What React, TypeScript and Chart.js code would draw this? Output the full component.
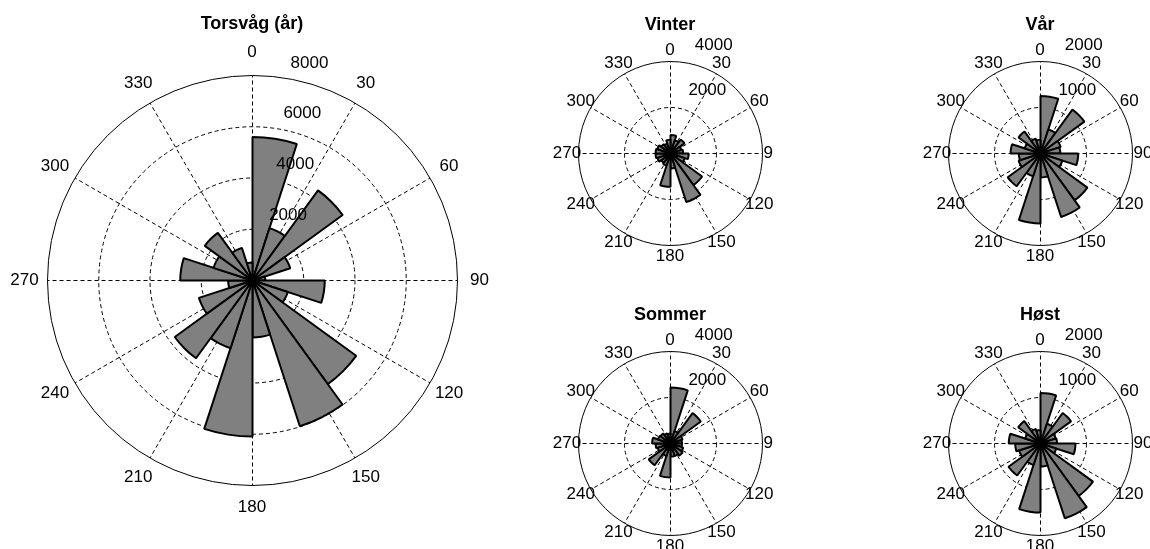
import React, { useEffect, useRef } from "react";
import { Chart, registerables } from "chart.js";

Chart.register(...registerables);

// Angle axis labels (degrees, clockwise from north)
const angleLabels = ["0", "30", "60", "90", "120", "150", "180", "210", "240", "270", "300", "330"];

// 20 direction bins of 18 degrees, clockwise from north (0-18, 18-36, ...)
const torsvagBins = [5600, 2150, 4350, 1550, 500, 2820, 1450, 5000, 5980, 2220, 6090, 2780, 3750, 2200, 950, 2820, 1600, 2300, 1340, 700];
const vinterBins = [800, 600, 750, 500, 550, 790, 650, 1700, 2220, 650, 1450, 550, 500, 600, 650, 650, 600, 500, 450, 600];
const varBins = [1250, 550, 1180, 460, 430, 820, 500, 1260, 1450, 520, 1520, 520, 880, 500, 470, 650, 360, 590, 340, 300];
const sommerBins = [2430, 570, 1630, 550, 500, 500, 580, 650, 570, 570, 1480, 570, 1170, 590, 650, 800, 570, 540, 460, 430];
const hostBins = [1100, 450, 820, 350, 360, 760, 360, 1410, 1710, 500, 1500, 490, 860, 490, 550, 690, 350, 600, 330, 290];

const FONT = '"Liberation Sans", Arial, Helvetica, sans-serif';

const roseDecor = {
  id: "roseDecor",
  beforeDraw(chart: any) {
    chart.ctx.save();
    chart.ctx.translate(0.5, 0.5);
  },
  afterDraw(chart: any, _args: any, opts: any) {
    const ctx = chart.ctx;
    ctx.restore();
    const s: any = chart.scales.r;
    const R = s.drawingArea;
    ctx.save();
    ctx.fillStyle = "#000";
    ctx.textAlign = "center";
    ctx.textBaseline = "middle";
    ctx.font = `bold ${opts.titleSize}px ${FONT}`;
    ctx.fillText(opts.title, s.xCenter, s.yCenter - R - opts.titleGap);
    ctx.font = `${opts.labelSize}px ${FONT}`;
    (chart.data.labels as string[]).forEach((lab, i) => {
      const p = s.getPointPosition(i, R * opts.labelFactor);
      ctx.fillText(lab, p.x, p.y);
    });
    ctx.textAlign = "left";
    const a = (8 * Math.PI) / 180;
    s.ticks.forEach((t: any) => {
      if (t.value <= 0) return;
      const d = s.getDistanceFromCenterForValue(t.value);
      ctx.fillText(
        String(t.value),
        s.xCenter + d * Math.sin(a) + opts.tickDx,
        s.yCenter - d * Math.cos(a) + opts.tickDy
      );
    });
    ctx.restore();
  },
};

type RoseProps = {
  left: number;
  top: number;
  width: number;
  height: number;
  padding: { left: number; right: number; top: number; bottom: number };
  values: number[];
  max: number;
  step: number;
  title: string;
  titleGap: number;
  labelFactor: number;
  tickDx: number;
  tickDy: number;
};

function Rose(props: RoseProps) {
  const ref = useRef<HTMLCanvasElement>(null);
  useEffect(() => {
    const chart = new Chart(ref.current as HTMLCanvasElement, {
      type: "polarArea",
      data: {
        labels: angleLabels,
        datasets: [
          {
            data: props.values,
            backgroundColor: "#808080",
            borderColor: "#000000",
            borderWidth: 2,
          },
        ],
      },
      options: {
        responsive: false,
        maintainAspectRatio: false,
        animation: false,
        devicePixelRatio: 1,
        events: [],
        layout: { padding: props.padding },
        plugins: {
          legend: { display: false },
          tooltip: { enabled: false },
          roseDecor: {
            title: props.title,
            titleGap: props.titleGap,
            titleSize: 18,
            labelSize: 17,
            labelFactor: props.labelFactor,
            tickDx: props.tickDx,
            tickDy: props.tickDy,
          },
        } as any,
        scales: {
          r: {
            min: 0,
            max: props.max,
            startAngle: 0,
            z: 1,
            ticks: { display: false, stepSize: props.step },
            grid: { color: "#000000", lineWidth: 1, circular: true },
            border: {
              dash: (c: any) => (c.tick && c.tick.value >= props.max ? [] : [4, 3]),
            },
            angleLines: { display: true, color: "#000000", lineWidth: 1, borderDash: [4, 3] },
            pointLabels: { display: false },
          } as any,
        },
      },
      plugins: [roseDecor as any],
    });
    return () => chart.destroy();
  }, []);
  return (
    <canvas
      ref={ref}
      width={props.width}
      height={props.height}
      style={{ position: "absolute", left: props.left, top: props.top, width: props.width, height: props.height }}
    />
  );
}

export default function App() {
  return (
    <div style={{ position: "absolute", left: 0, top: 0, width: 1150, height: 549, overflow: "hidden", background: "#fff" }}>
      <Rose
        left={0}
        top={0}
        width={504}
        height={549}
        padding={{ left: 47, right: 47, top: 75, bottom: 64 }}
        values={torsvagBins}
        max={8000}
        step={2000}
        title="Torsvåg (år)"
        titleGap={51}
        labelFactor={1.11}
        tickDx={10}
        tickDy={-14}
      />
      <Rose
        left={540}
        top={0}
        width={233}
        height={280}
        padding={{ left: 38, right: 11, top: 61, bottom: 35 }}
        values={vinterBins}
        max={4000}
        step={2000}
        title="Vinter"
        titleGap={36}
        labelFactor={1.12}
        tickDx={12}
        tickDy={-17}
      />
      <Rose
        left={920}
        top={0}
        width={230}
        height={280}
        padding={{ left: 28, right: 18, top: 61, bottom: 35 }}
        values={varBins}
        max={2000}
        step={1000}
        title="Vår"
        titleGap={36}
        labelFactor={1.12}
        tickDx={12}
        tickDy={-17}
      />
      <Rose
        left={540}
        top={290}
        width={233}
        height={259}
        padding={{ left: 38, right: 11, top: 61, bottom: 14 }}
        values={sommerBins}
        max={4000}
        step={2000}
        title="Sommer"
        titleGap={36}
        labelFactor={1.12}
        tickDx={12}
        tickDy={-17}
      />
      <Rose
        left={920}
        top={290}
        width={230}
        height={259}
        padding={{ left: 28, right: 18, top: 61, bottom: 14 }}
        values={hostBins}
        max={2000}
        step={1000}
        title="Høst"
        titleGap={36}
        labelFactor={1.12}
        tickDx={12}
        tickDy={-17}
      />
    </div>
  );
}
